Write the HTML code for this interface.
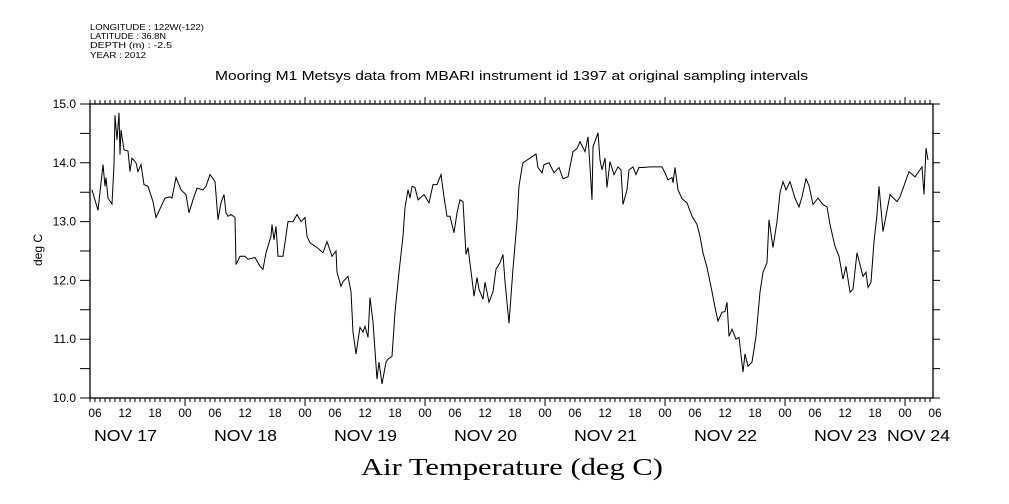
<!DOCTYPE html>
<html><head><meta charset="utf-8"><style>
html,body{margin:0;padding:0;background:#fff;}
svg{display:block;}
text{font-family:"Liberation Sans",sans-serif;fill:#000;}
</style></head><body>
<svg id="chart" width="1009" height="504" xmlns="http://www.w3.org/2000/svg">
<g font-size="8.5">
<text x="90" y="30" textLength="114" lengthAdjust="spacingAndGlyphs">LONGITUDE : 122W(-122)</text>
<text x="90" y="39" textLength="76" lengthAdjust="spacingAndGlyphs">LATITUDE : 36.8N</text>
<text x="90" y="48" textLength="82" lengthAdjust="spacingAndGlyphs">DEPTH (m) : -2.5</text>
<text x="90" y="58" textLength="56" lengthAdjust="spacingAndGlyphs">YEAR : 2012</text>
</g>
<text x="215" y="80" textLength="593" lengthAdjust="spacingAndGlyphs" font-size="13">Mooring M1 Metsys data from MBARI instrument id 1397 at original sampling intervals</text>
<text x="361" y="475" textLength="302" lengthAdjust="spacingAndGlyphs" font-size="24" style="font-family:'Liberation Serif',serif">Air Temperature (deg C)</text>
<text transform="translate(42,250) rotate(-90)" text-anchor="middle" font-size="12">deg C</text>
<rect x="90" y="104" width="843" height="294" fill="none" stroke="#000" stroke-width="1.3"/>
<g id="axes"></g>
<g id="series"></g>
</svg>
<script>
const hours=[5.4,6.6,7.6,8,8.2,8.6,9.4,9.8,10,10.4,10.8,11,11.2,11.8,12.6,13,13.4,14.2,14.6,15.2,15.8,16.6,17.6,18.2,20,21,21.4,22.2,23.2,24.2,24.8,25.6,26.4,27.6,28.2,29,30,30.6,31.2,31.8,32.2,32.6,33.2,34,34.2,35,36,36.6,38,39,39.6,40.2,41.2,41.4,41.8,42.2,42.6,43.6,44.6,45.6,46.4,47.2,48,48.4,49,50.4,51.6,52.4,53.4,54.2,54.4,55.2,55.6,56.6,57.2,57.6,58.2,59,59.6,60,60.6,61,61.6,62.4,62.8,63.4,64.2,64.6,65.4,66,66.8,67.6,68,68.6,69,69.4,70,70.6,71.8,72.8,73.6,74.4,75.2,75.8,76.4,77,77.8,78.4,79,79.6,80.2,80.6,81.4,81.8,82.4,82.8,83.6,84,84.8,85.6,86.2,87,87.6,88,88.8,89.6,90.4,90.8,91.4,91.6,94.2,94.6,95.4,95.8,96.8,97.8,98.8,99.6,100.6,101.6,102.4,103,104,104.6,105,105.4,105.6,106.6,107,107.4,108,108.4,109,109.8,110.6,111.2,111.6,112.4,112.8,113.6,114.2,114.8,115.6,117,119.4,120,120.6,121.4,121.6,122,122.6,123.4,124.4,125.4,126.4,127,127.6,128.4,129.4,130,130.6,131.4,132,132.4,132.8,133.4,134.2,134.8,135.6,136,136.6,137.4,138.2,139,139.6,140.4,140.8,141.6,142.4,143,143.6,144.2,145,146,146.8,147.4,148.2,148.8,149.6,150.6,151.6,152.4,153,154,154.8,155.6,156.2,157,157.6,158.4,159.6,160.2,160.6,161.2,161.8,162.4,162.8,163.6,165,166.4,167,168,168.8,170,171.4,171.8,172.2,172.6];
const temps=[13.54,13.19,13.97,13.6,13.75,13.4,13.3,13.97,14.81,14.39,14.85,14.14,14.56,14.22,14.2,13.85,14.08,14.0,13.85,13.97,13.63,13.6,13.34,13.07,13.4,13.42,13.4,13.75,13.54,13.46,13.15,13.37,13.57,13.54,13.6,13.8,13.68,13.03,13.32,13.46,13.15,13.09,13.12,13.07,12.27,12.41,12.41,12.36,12.39,12.24,12.19,12.47,12.75,12.95,12.69,12.92,12.41,12.41,13.0,13.0,13.12,13.0,13.07,12.75,12.64,12.56,12.47,12.66,12.41,12.5,12.14,11.9,11.98,12.07,11.81,11.12,10.75,11.2,11.12,11.22,11.03,11.71,11.29,10.32,10.61,10.24,10.61,10.66,10.71,11.46,12.14,12.75,13.24,13.54,13.4,13.6,13.58,13.37,13.46,13.32,13.63,13.63,13.8,13.42,13.09,13.09,12.81,13.15,13.37,13.34,12.44,12.56,12.02,11.73,12.05,11.85,11.68,11.97,11.63,11.81,12.19,12.3,12.44,11.98,11.27,12.2,13.0,13.6,13.92,14.0,14.15,13.92,13.83,13.97,14.0,13.83,13.92,13.73,13.76,14.19,14.24,14.36,14.19,14.44,13.93,13.37,14.27,14.51,14.05,13.88,14.08,13.58,14.02,13.8,13.93,13.88,13.29,13.54,13.88,13.93,13.8,13.92,13.92,13.93,13.93,13.83,13.71,13.75,13.66,13.92,13.54,13.39,13.32,13.09,12.95,12.75,12.47,12.22,11.81,11.54,11.31,11.46,11.47,11.63,11.05,11.17,11.0,11.03,10.44,10.75,10.54,10.61,11.05,11.8,12.14,12.3,13.03,12.56,13.0,13.49,13.68,13.54,13.68,13.4,13.25,13.42,13.73,13.61,13.29,13.4,13.29,13.25,12.95,12.58,12.41,12.02,12.24,11.8,11.85,12.47,12.07,12.14,11.88,11.97,12.66,13.12,13.6,12.83,13.46,13.34,13.42,13.66,13.85,13.76,13.93,13.46,14.25,14.05,13.58];
const yTickLabels=["10.0","11.0","12.0","13.0","14.0","15.0"];
const hourLabels=["06","12","18","00"];
const dateLabels=["NOV 17","NOV 18","NOV 19","NOV 20","NOV 21","NOV 22","NOV 23","NOV 24"];
const NS="http://www.w3.org/2000/svg";
const X0=90,X1=933,Y0=104,Y1=398,H0=5,PXH=5;
function xs(h){return X0+(h-H0)*PXH;}
function ys(v){return Y0+(15-v)*(Y1-Y0)/5;}
const axes=document.getElementById('axes');
function mk(tag,attrs,parent){const e=document.createElementNS(NS,tag);for(const k in attrs)e.setAttribute(k,attrs[k]);parent.appendChild(e);return e;}
let d='';
for(let h=5;h<=173;h++){const x=xs(h);const maj=(h%24===0);d+=`M${x},${Y0}V${Y0-(maj?7:4)}M${x},${Y1}V${Y1+(maj?8:4)}`;}
for(let v=10;v<=15.001;v+=0.5){const y=ys(v);d+=`M${X0-10},${y}H${X0}M${X1},${y}H${X1+7}`;}
const tk=mk('path',{d:d,stroke:'#000','stroke-width':1,fill:'none'},axes);


yTickLabels.forEach(function(s){const t=mk('text',{x:76,y:ys(parseFloat(s))+4,'text-anchor':'end','font-size':12},axes);t.textContent=s;

});
for(let h=6,i=0;h<=174;h+=6,i++){const t=mk('text',{x:xs(h),y:417,'text-anchor':'middle','font-size':12},axes);t.textContent=hourLabels[i%4];

}
dateLabels.forEach(function(s,i){const cx=(i===7)?918:xs(12+24*i);const t=mk('text',{x:cx-31,y:441,'font-size':16,textLength:63,lengthAdjust:'spacingAndGlyphs'},axes);t.textContent=s;

});
const pts=hours.map(function(h,i){return xs(h).toFixed(1)+','+ys(temps[i]).toFixed(1);}).join(' ');
const line=mk('polyline',{points:pts,fill:'none',stroke:'#000','stroke-width':1},document.getElementById('series'));


</script>
</body></html>
